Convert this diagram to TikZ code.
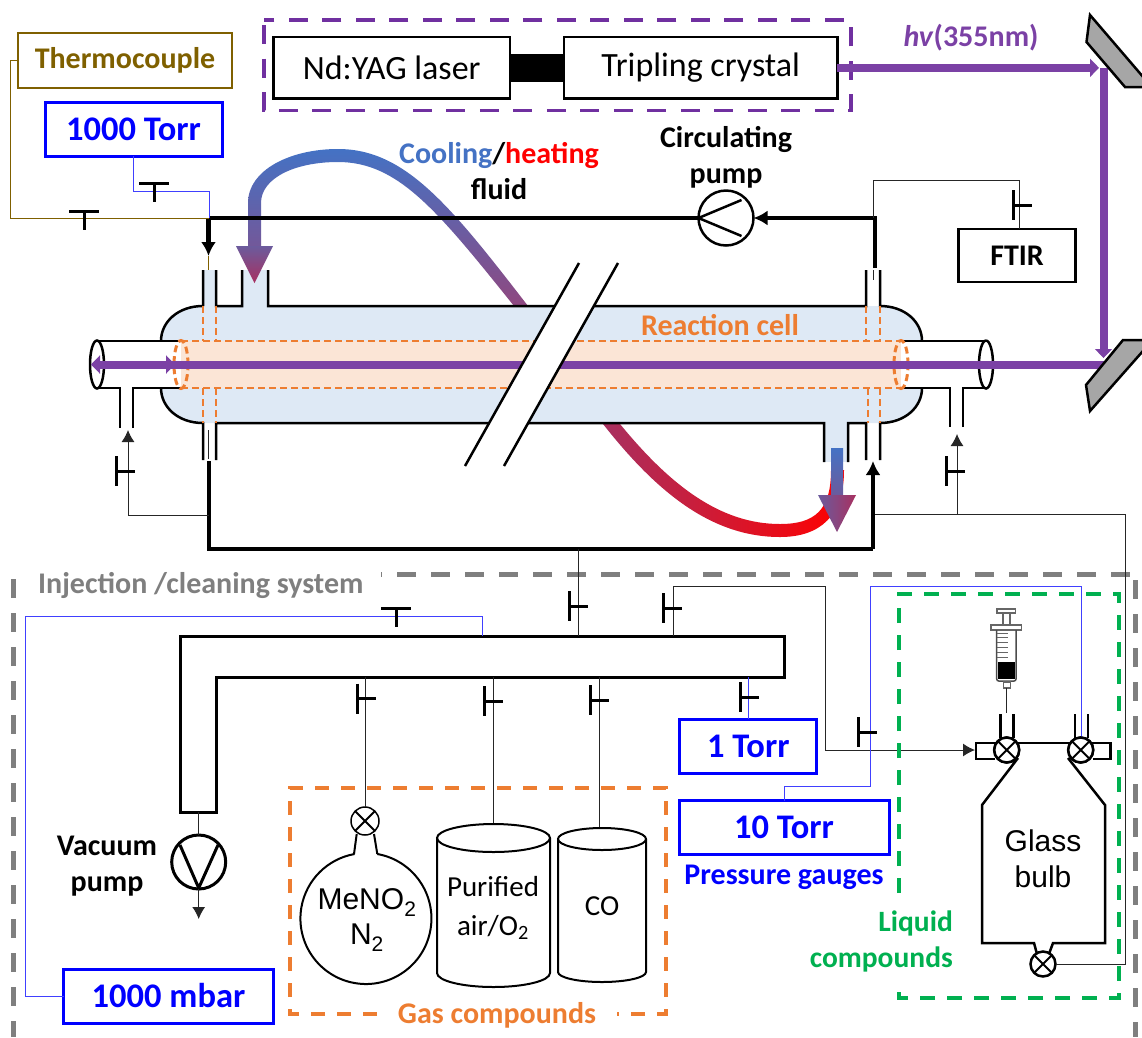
\documentclass[tikz,border=0pt]{standalone}
\usepackage{fontspec}
\setmainfont{Carlito}
\newfontfamily\arialfont{Liberation Sans}
\usetikzlibrary{arrows.meta,positioning}
\definecolor{beamc}{HTML}{7B41A5}
\definecolor{darkp}{HTML}{7030A0}
\definecolor{cellc}{HTML}{DEE9F5}
\definecolor{tubec}{HTML}{FBE5D6}
\definecolor{orgc}{HTML}{ED7D31}
\definecolor{brnc}{HTML}{7F6000}
\definecolor{grnc}{HTML}{00B050}
\definecolor{coolc}{HTML}{4472C4}
\definecolor{midc}{HTML}{6B5B9D}
\definecolor{hotc}{HTML}{A83060}
\definecolor{endc}{HTML}{8F4880}
\definecolor{grayc}{HTML}{7F7F7F}
\definecolor{mirc}{HTML}{A6A6A6}
\newcommand{\fs}[2]{\fontsize{#1}{#2}\selectfont}
\begin{document}
\begin{tikzpicture}[x=1pt,y=-1pt,>=Latex]
  \tikzstyle{box}=[draw,line width=2.5pt,inner sep=0pt,outer sep=0pt,align=center]
  \tikzstyle{gauge}=[box,line width=3pt,draw=blue,text=blue,font=\fs{34.5}{38}\bfseries]
  \tikzstyle{lbl}=[inner sep=0pt,align=center,font=\fs{30}{36}\bfseries]
  \tikzstyle{wall}=[line width=2.5pt]
  \tikzstyle{fine}=[line width=1pt,black!85]
  \tikzstyle{bfine}=[line width=1pt,blue!75]
  \tikzstyle{pipe}=[line width=4.5pt]
  \tikzstyle{stop}=[line width=3pt]
  \tikzstyle{xvalve}=[draw,circle,fill=white,line width=2.5pt,inner sep=0pt,outer sep=0pt,minimum size=25pt]
  \tikzstyle{odash}=[orgc,line width=2.5pt,dash pattern=on 7pt off 4pt]
  \tikzstyle{beam}=[beamc,line width=8pt]
  \tikzstyle{bigtip}=[-{Latex[length=14pt,width=15pt]}]
  \tikzstyle{smalltip}=[-{Latex[length=12pt,width=13pt]}]
  \clip (0,0) rectangle (1142,1037);

  \node[box,draw=brnc,text=brnc,minimum width=214pt,minimum height=55pt,font=\fs{30}{32}\bfseries] (tc) at (125,60.5) {\raisebox{-2pt}{Thermocouple}};
  \node[gauge,minimum width=177pt,minimum height=54pt] (gA) at (133.5,129) {\raisebox{-1pt}{1000 Torr}};
  \node[box,font=\fs{34}{38},minimum width=236.5pt,minimum height=61.5pt] (laser) at (391.7,67.8) {\raisebox{-2pt}{Nd:YAG laser}};
  \node[box,font=\fs{34}{38},minimum width=273.5pt,minimum height=61.5pt] (crystal) at (700.7,67.8) {\raisebox{-2pt}{Tripling crystal}};
  \draw[line width=28pt] (laser) -- (crystal);
  \draw[darkp,line width=3.5pt,dash pattern=on 19pt off 14.5pt] (264,25) -- (264,110.7) -- (851,110.7) -- (851,20) -- (264,20);
  \node[lbl,text=beamc] (hv) at (971,38) {\textit{hv}(355nm)};
  \coordinate (m1) at (1099,67.8);
  \coordinate (m2) at (1103.5,67.8);
  \coordinate (m3) at (1103.5,358);
  \draw[beam,-{Triangle[length=9pt,width=18pt]}] (crystal) -- (m1);
  \draw[beam] (m2) -- (1103.5,350);
  \draw[beamc,line width=1pt,-{Triangle[length=9pt,width=17pt]}] (1103.5,349) -- (m3);
  \draw[wall,fill=mirc] (1090,15) -- (1150,85) -- (1150,87) -- (1125,87) -- (1086.5,42) -- cycle;

  \shade[top color=coolc,bottom color=endc] (248,250) -- (248,203) .. controls (248,170) and (290,149) .. (338,149) .. controls (405,149) and (450,205) .. (528,306) -- (514,306) .. controls (437,210) and (398,162) .. (338,162) .. controls (295,162) and (261,178) .. (261,203) -- (261,250) -- cycle;
  \shade[left color=hotc,right color=red] (620,424) .. controls (670,485) and (720,524) .. (780,524) .. controls (815,524) and (831,510) .. (831,470) -- (844,470) .. controls (844,516) and (820,537) .. (780,537) .. controls (710,537) and (655,490) .. (603,424) -- cycle;

  \fill[cellc] (203,306) -- (880,306) .. controls (905,306) and (922,322) .. (922,341) -- (922,388) .. controls (922,407) and (905,423) .. (880,423) -- (203,423) .. controls (178,423) and (161,407) .. (161,388) -- (161,341) .. controls (161,322) and (178,306) .. (203,306) -- cycle;
  \fill[cellc] (203,270) rectangle (216,306);
  \fill[cellc] (242,270) rectangle (268,306);
  \fill[cellc] (824,423) rectangle (848,462);
  \draw[wall] (203,270) -- (203,306) (216,270) -- (216,306) -- (242,306) -- (242,270) (268,270) -- (268,306) -- (866,306) -- (866,270) (880,270) -- (880,306) .. controls (905,306) and (922,322) .. (922,341);
  \draw[wall] (922,388) .. controls (922,407) and (905,423) .. (880,423) -- (880,460) (866,460) -- (866,423) -- (848,423) -- (848,462) (824,462) -- (824,423) -- (216,423) -- (216,460) (203,460) -- (203,423) .. controls (178,423) and (161,407) .. (161,388);
  \draw[wall] (161,341) .. controls (161,322) and (178,306) .. (203,306);

  \fill[tubec] (181,341) rectangle (901,388);
  \draw[odash] (181,341) -- (901,341) (181,388) -- (901,388);
  \draw[odash] (203,306) -- (203,341) (216,306) -- (216,341) (203,388) -- (203,423) (216,388) -- (216,423);
  \draw[odash] (866,306) -- (866,341) (880,306) -- (880,341) (868,388) -- (868,423) (880,388) -- (880,423);
  \fill[white] (97,341) rectangle (181,388);
  \fill[white] (901,341) rectangle (986,388);
  \draw[wall] (97,341) -- (181,341) (97,388) -- (120,388) -- (120,428) (133,428) -- (133,388) -- (181,388);
  \draw[wall] (901,341) -- (986,341) (901,388) -- (950,388) -- (950,427) (963,427) -- (963,388) -- (986,388);
  \draw[wall,fill=white] (97,364.5) ellipse [x radius=7pt,y radius=24pt];
  \draw[wall] (986,340.5) arc [start angle=90,end angle=-270,x radius=7pt,y radius=24pt];
  \draw[orgc,line width=3pt,dash pattern=on 7pt off 4pt] (181,364.5) ellipse [x radius=7pt,y radius=24pt];
  \draw[orgc,line width=3pt,dash pattern=on 7pt off 4pt] (901,364.5) ellipse [x radius=7pt,y radius=24pt];
  \coordinate (m4) at (1105,364.5);
  \coordinate (m5) at (91,364.5);
  \coordinate (m6) at (175,364.5);
  \draw[beam] (m4) -- (160,364.5);
  \draw[beam,-{Triangle[length=9pt,width=18pt]}] (100,364.5) -- (m5);
  \draw[beam,-{Triangle[length=9pt,width=18pt]}] (100,364.5) -- (m6);
  \draw[wall,fill=mirc] (1123,340) -- (1150,340) -- (1150,343) -- (1090,411) -- (1086,385) -- cycle;

  \fill[white] (579,263) -- (618,263) -- (504,466) -- (465,466) -- cycle;
  \draw[wall] (579,263) -- (465,466) (618,263) -- (504,466);
  \node[lbl,text=orgc] (cell) at (720,325) {Reaction cell};

  \node[draw,circle,line width=2.5pt,inner sep=0pt,outer sep=0pt,minimum size=55pt] (cp) at (726,218) {};
  \draw[line width=2.5pt] (cp.west) -- (741.5,200) (cp.west) -- (741.5,236);
  \node[lbl] (cpl) at (726,157) {Circulating\\pump};
  \coordinate (pL) at (208.5,218);
  \coordinate (pT) at (208.5,256);
  \coordinate (pR) at (875,218);
  \coordinate (pB) at (875,268);
  \draw[pipe,line width=4pt] (cp.west) -- (pL);
  \draw[pipe,bigtip] (pL) -- (pT);
  \draw[pipe,bigtip] (pB) -- (pR) -- (cp.east);
  \draw[brnc,line width=1pt] (pT) -- (208.5,270);
  \draw[brnc,line width=1pt] (tc.west) -- (10,60.5) |- (pL);
  \draw[bfine] (gA.south) |- (209,191) -- (209,218);
  \shade[top color=midc,bottom color=hotc] (236,246) -- (273,246) -- (254.5,283) -- cycle;

  \node[lbl] (cool) at (499,171) {\textcolor{coolc}{Cooling}/\textcolor{red}{heating}\\fluid};
  \node[box,font=\fs{30}{32}\bfseries,minimum width=117pt,minimum height=53pt] (ftir) at (1017,255.5) {FTIR};
  \coordinate (f1) at (873.5,218);
  \coordinate (f2) at (1019.6,180);
  \coordinate (f3) at (1019.6,229);
  \draw[fine] (f1) |- (f2) -- (f3);
  \draw[fine] (873.5,270) -- (873.5,280);
  \draw[fine] (208.5,430) -- (208.5,459);

  \coordinate (b1) at (209,461);
  \coordinate (b2) at (209,549);
  \coordinate (b3) at (873,549);
  \coordinate (b4) at (873,461);
  \draw[pipe] (b1) -- (b2) -- (b3);
  \draw[pipe,bigtip] (b3) -- (b4);
  \coordinate (l1) at (209,515);
  \coordinate (l2) at (128,430);
  \draw[fine,smalltip] (l1) -| (l2);
  \coordinate (r1) at (875,514);
  \coordinate (r2) at (957,434);
  \coordinate (r3) at (957,514);
  \draw[fine,smalltip] (r3) -- (r2);
  \shade[top color=coolc,bottom color=midc] (831,448) rectangle (843,495);
  \shade[left color=midc,right color=hotc] (818,495) -- (856,495) -- (837,532) -- cycle;

  \draw[grayc,line width=4.5pt,dash pattern=on 19pt off 15pt,dash phase=18pt] (381,574.5) -- (1130,574.5);
  \draw[grayc,line width=4.5pt,dash pattern=on 19pt off 15pt] (1135.7,580) -- (1135.7,1037);
  \draw[grayc,line width=4.5pt,dash pattern=on 19pt off 15pt] (13.5,579) -- (13.5,1037);
  \node[lbl,text=grayc,anchor=west] (inj) at (38,585) {Injection /cleaning system};

  \draw[line width=3pt] (180,636) -- (784,636) -- (784,677) -- (216,677) -- (216,812) -- (180,812) -- cycle;
  \coordinate (mT) at (578.7,549);
  \coordinate (mB) at (578.7,636);
  \draw[fine] (mT) -- (mB);

  \node[gauge,minimum width=210pt,minimum height=54pt] (gB) at (168.5,996) {\raisebox{-1pt}{1000 mbar}};
  \node[gauge,minimum width=137pt,minimum height=54pt] (gC) at (748.3,746) {\raisebox{-1pt}{1 Torr}};
  \node[gauge,minimum width=210pt,minimum height=53.5pt] (gD) at (784,827.5) {\raisebox{-1.5pt}{10 Torr}};
  \node[lbl,text=blue] (gl) at (784,877) {Pressure gauges};
  \coordinate (a1) at (25.7,616);
  \coordinate (a2) at (482,636);
  \draw[bfine] (gB.west) -| (a1) -| (a2);
  \coordinate (c1) at (748.5,677);
  \draw[bfine] (c1) -- (gC.north -| c1);

  \node[xvalve,line width=1.5pt,minimum size=28pt] (vF) at (365,821) {};
  \node[xvalve] (vL) at (1006.7,750) {};
  \node[xvalve] (vR) at (1080.7,750) {};
  \node[xvalve] (vB) at (1043,964) {};
  \foreach \v in {vF,vL,vR,vB} {\draw[line width=2pt] (\v.45) -- (\v.225) (\v.135) -- (\v.315);}

  \coordinate (d1) at (365,677);
  \draw[fine] (d1) -- (vF.north);
  \coordinate (d2) at (493.7,677);
  \coordinate (d3) at (493.7,824);
  \draw[fine] (d2) -- (d3);
  \coordinate (d4) at (599,677);
  \coordinate (d5) at (599,828);
  \draw[fine] (d4) -- (d5);

  \draw[line width=2pt] (377.3,854) arc [start angle=80,end angle=-260,radius=65.5pt];
  \draw[line width=2pt] (354,854) -- (356.7,834) (374,834) -- (377.3,854);
  \node[inner sep=0pt,align=center,font=\fs{30}{35}\arialfont] (men) at (367,920) {MeNO\textsubscript{2}\\N\textsubscript{2}};

  \draw[line width=2pt] (437,838) -- (437,973) arc [start angle=180,end angle=360,x radius=56.5pt,y radius=14pt] -- (550,838);
  \draw[line width=2pt] (493.5,838) ellipse [x radius=56.5pt,y radius=14pt];
  \node[inner sep=0pt,align=center,font=\fs{29}{39}] (air) at (493,908) {Purified\\air/O\textsubscript{2}};
  \draw[line width=2pt] (558,839) -- (558,972) arc [start angle=180,end angle=360,x radius=44pt,y radius=10pt] -- (646,839);
  \draw[line width=2pt] (602,839) ellipse [x radius=44pt,y radius=11pt];
  \node[inner sep=0pt,font=\fs{29}{34}] (co) at (602,906) {CO};
  \draw[orgc,line width=3.5pt,dash pattern=on 14pt off 12pt] (377,1014) -- (290,1014) -- (290,788) -- (666,788) -- (666,1014) -- (617,1014);
  \node[lbl,text=orgc] (gas) at (497,1015) {Gas compounds};

  \node[draw,circle,line width=3pt,inner sep=0pt,outer sep=0pt,minimum size=54pt] (vp) at (198.7,862) {};
  \draw[line width=3pt] (180,845) -- (198.7,888) -- (218,845);
  \coordinate (vt) at (198.7,812);
  \coordinate (vb) at (198.7,919);
  \draw[fine] (vt) -- (vp.north);
  \draw[fine,smalltip] (vp.south) -- (vb);
  \node[lbl] (vpl) at (107,866) {Vacuum\\pump};

  \coordinate (e1) at (673,636);
  \coordinate (e2) at (825,586);
  \coordinate (e3) at (975,750);
  \draw[fine] (e1) |- (e2);
  \draw[fine,smalltip] (e2) |- (e3);
  \coordinate (k2) at (870,786.7);
  \coordinate (k3) at (1081,586);
  \coordinate (k4) at (1081,737);
  \draw[bfine] (gD.north) |- (k2) |- (k3) -- (k4);

  \draw[grnc,line width=3.5pt,dash pattern=on 15pt off 12pt] (899,893) -- (899,594) -- (1119,594) -- (1119,998) -- (899,998) -- (899,990);
  \node[lbl,text=grnc,align=right,anchor=east,font=\fs{29.5}{36}\bfseries] (liq) at (953,941) {Liquid\\compounds};

  \draw[wall] (995,759) -- (976,759) -- (976,743) -- (1110.7,743) -- (1110.7,759) -- (1093,759);
  \draw[wall] (1018,758) -- (982,805) -- (982,943) -- (1034,943) -- (vB.120);
  \draw[wall] (1068,758) -- (1105,805) -- (1105,943) -- (1053,943) -- (vB.60);
  \node[xvalve] at (vL) {};
  \node[xvalve] at (vR) {};
  \foreach \v in {vL,vR} {\draw[line width=2pt] (\v.45) -- (\v.225) (\v.135) -- (\v.315);}
  \draw[wall] (1000.7,714) -- (1000.7,738) (1013.3,714) -- (1013.3,738) (1075,714) -- (1075,738) (1088,714) -- (1088,738);
  \draw[fine] (vB.east) -- (1125,964) -- (1125,514) -- (r1);
  \node[inner sep=0pt,align=center,font=\fs{30}{36}\arialfont] (bulb) at (1043,859) {Glass\\bulb};

  \draw[line width=1.5pt,black!60,fill=white] (997,609) rectangle (1015.7,613);
  \draw[line width=1.5pt,black!60] (1003,613) -- (1003,625) (1010,613) -- (1010,625);
  \draw[line width=1.5pt,black!60,fill=white] (991,625) rectangle (1021.7,630);
  \draw[line width=1.5pt,black!70,rounded corners=2pt] (996.7,630) -- (996.7,681) -- (1016,681) -- (1016,630);
  \foreach \y in {633,637,642,647,652,657} {\draw[line width=1pt,black!60] (997,\y) -- (1008,\y);}
  \fill (998,661.7) rectangle (1015,679);
  \draw[line width=1.5pt,black!60] (1003.3,682) rectangle (1010.7,688);
  \coordinate (sy) at (1006.7,688);
  \coordinate (sz) at (1006.7,712.6);
  \draw[fine] (sy) -- (sz);

  \foreach \x/\y in {84/211,154/183,396/608} {\draw[stop] (\x-15,\y) -- (\x+15,\y) (\x,\y) -- (\x,\y+19);}
  \foreach \x/\y in {1013/205,116/471,946/471,569/606,663/608,357/698.5,484/701,590/700,740/697,858/732} {\draw[stop] (\x,\y-15) -- (\x,\y+15) (\x,\y) -- (\x+19,\y);}
\end{tikzpicture}
\end{document}
